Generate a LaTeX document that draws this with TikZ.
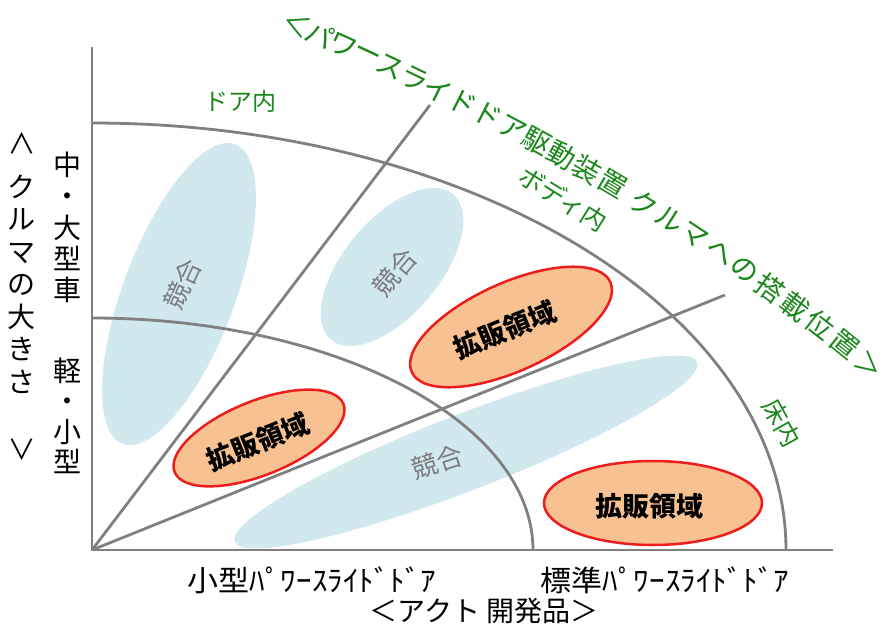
\documentclass[tikz,border=0pt]{standalone}
\usepackage{fontspec}
\setmainfont{Noto Sans CJK JP}
\usetikzlibrary{shapes.geometric}
\definecolor{kgreen}{RGB}{26,135,26}
\definecolor{lineg}{RGB}{128,128,128}
\definecolor{lblue}{RGB}{210,232,239}
\definecolor{lorange}{RGB}{248,193,145}
\definecolor{kred}{RGB}{238,28,28}
\definecolor{tgray}{RGB}{125,125,125}
\begin{document}
\begin{tikzpicture}[x=1pt,y=-1pt,
  axisline/.style={draw=lineg, line width=2.8pt},
  compet/.style={ellipse, fill=lblue, inner sep=0pt},
  expand/.style={ellipse, fill=lorange, draw=kred, line width=2.5pt, inner sep=0pt},
  competlbl/.style={text=tgray, font=\fontsize{26}{26}\selectfont, inner sep=0pt},
  expandlbl/.style={font=\bfseries\fontsize{27}{27}\selectfont, inner sep=0pt},
  greenlbl/.style={text=kgreen, font=\fontsize{25}{25}\selectfont, inner sep=0pt},
  titlechar/.style={text=kgreen, font=\fontsize{28}{28}\selectfont, inner sep=0pt},
  blacklbl/.style={font=\fontsize{28}{28}\selectfont, inner sep=0pt},
]
\useasboundingbox (0,0) rectangle (885,631);

% competition areas (light blue)
\node[compet, minimum width=320pt, minimum height=112pt, rotate=69.4] (e1) at (179,294) {};
\node[compet, minimum width=190pt, minimum height=96pt, rotate=50] (e2) at (392,267) {};
\node[compet, minimum width=496pt, minimum height=76pt, rotate=21.2] (e3) at (466,452) {};

% axes and grid
\coordinate (O) at (92,550);
\coordinate (ytop) at (92,47);
\coordinate (xend) at (833,550);
\coordinate (d1) at (430,105);
\coordinate (d2) at (725,295);
\draw[axisline] (ytop) -- (O) -- (xend);
\draw[axisline] (O) -- (d1);
\draw[axisline] (O) -- (d2);
\draw[axisline] plot[domain=0:90, samples=90, smooth] ({92+441*cos(\x)}, {550-232*sin(\x)});
\draw[axisline] plot[domain=0:90, samples=90, smooth] ({92+694*cos(\x)}, {550-427*sin(\x)});

% expansion areas (orange)
\node[expand, minimum width=182pt, minimum height=74pt, rotate=22] (o1) at (259,438) {};
\node[expand, minimum width=218pt, minimum height=88pt, rotate=24.4] (o2) at (511,327) {};
\node[expand, minimum width=218pt, minimum height=84pt] (o3) at (653,503) {};

% labels in areas
\node[competlbl, rotate=65] (c1) at (183,284) {競合};
\node[competlbl, rotate=50] (c2) at (395,272) {競合};
\node[competlbl, rotate=18] (c3) at (437,462) {競合};
\node[expandlbl, rotate=22] (x1) at (258,442) {拡販領域};
\node[expandlbl, rotate=22] (x2) at (505,330) {拡販領域};
\node[expandlbl] (x3) at (649,506) {拡販領域};

% green position labels
\node[greenlbl, font=\fontsize{24}{24}\selectfont] (door) at (240,101) {ドア内};
\node[greenlbl, rotate=-32] (body) at (563,199) {ボディ内};
\node[greenlbl, rotate=-61] (floor) at (782,423) {床内};

% curved title
\coordinate (tA) at (297,25);
\coordinate (tB) at (472,102);
\coordinate (tC) at (680,206);
\coordinate (tD) at (869,365);
\foreach \c/\s [count=\i] in {＜/0,パ/1,ワ/2,ー/3,ス/4,ラ/5,イ/6,ド/7,ド/8,ア/9,駆/10,動/11,装/12,置/13,ク/14.25,ル/15.25,マ/16.25,へ/17.25,の/18.25,搭/19.25,載/20.25,位/21.25,置/22.25,＞/23.25}{
  \pgfmathsetmacro\p{\s/23.25}
  \path (tA) .. controls (tB) and (tC) .. (tD) node[titlechar, pos=\p, sloped] (tc\i) {\c};
}

% vertical axis labels
\node[blacklbl, align=center, font=\fontsize{28}{31.25}\selectfont] (big) at (67,227.5) {中\\・\\大\\型\\車};
\node[blacklbl, align=center, font=\fontsize{28}{30.3}\selectfont] (small) at (67,416) {軽\\・\\小\\型};
\node[blacklbl, rotate=-90] (vopen) at (22,144) {＜};
\node[blacklbl, align=center, font=\fontsize{28}{32.5}\selectfont] (carsize) at (22,284) {ク\\ル\\マ\\の\\大\\き\\さ};
\node[blacklbl, rotate=-90] (vclose) at (22,449) {＞};

% horizontal axis labels
\node[blacklbl, font=\fontsize{29}{29}\selectfont] (smalldoor) at (312,580) {\scalebox{1.07}[1]{小型ﾊﾟﾜｰｽﾗｲﾄﾞﾄﾞｱ}};
\node[blacklbl, font=\fontsize{29}{29}\selectfont] (stddoor) at (665,580) {\scalebox{1.07}[1]{標準ﾊﾟﾜｰｽﾗｲﾄﾞﾄﾞｱ}};
\node[blacklbl] (act) at (484,611) {＜アクト 開発品＞};
\end{tikzpicture}
\end{document}
